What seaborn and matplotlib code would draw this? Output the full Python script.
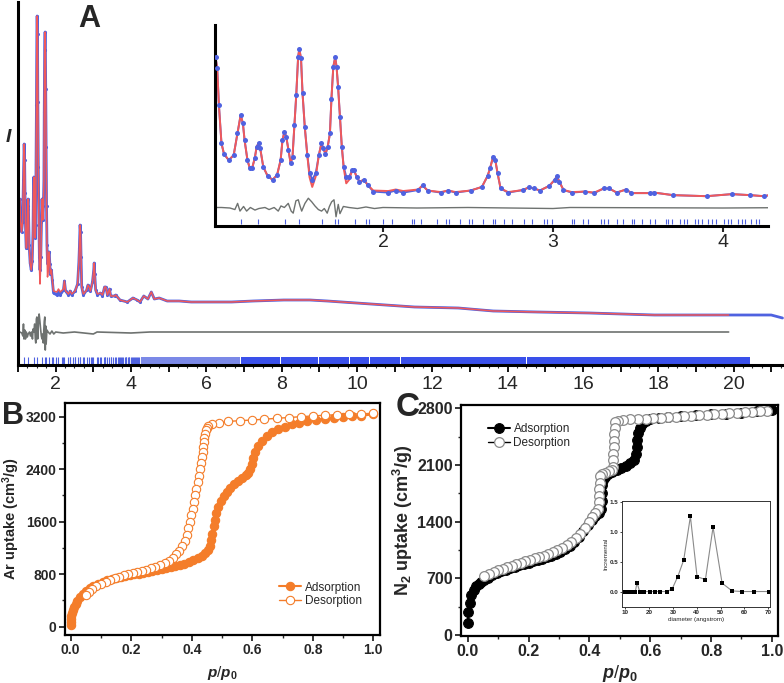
import numpy as np
import matplotlib
matplotlib.use("Agg")
import matplotlib.pyplot as plt
import seaborn as sns

# -------------------------------
# Panel A: powder pattern (arbitrary units)
# -------------------------------
two_theta = [1.015, 1.025, 1.035, 1.050, 1.065, 1.093, 1.122, 1.144, 1.163, 1.176,
             1.186, 1.203, 1.217, 1.230, 1.246, 1.257, 1.268, 1.278, 1.296, 1.322,
             1.351, 1.377, 1.398, 1.409, 1.420, 1.431, 1.444, 1.457, 1.468, 1.479,
             1.490, 1.501, 1.508, 1.518, 1.527, 1.540, 1.555, 1.568, 1.584, 1.605,
             1.623, 1.638, 1.649, 1.662, 1.675, 1.688, 1.697, 1.708, 1.719, 1.727,
             1.736, 1.747, 1.758, 1.769, 1.784, 1.801, 1.819, 1.830, 1.845, 1.862,
             1.888, 1.910, 1.943, 2.031, 2.075, 2.119, 2.207, 2.233, 2.263, 2.340,
             2.384, 2.427, 2.516, 2.582, 2.615, 2.630, 2.648, 2.661, 2.674, 2.692,
             2.736, 2.824, 2.857, 2.890, 2.923, 2.978, 3.011, 3.023, 3.038, 3.062,
             3.111, 3.188, 3.243, 3.298, 3.331, 3.375, 3.430, 3.462, 3.573, 3.595,
             3.707, 3.904, 4.052, 4.162, 4.240, 4.34, 4.45, 4.54, 4.62, 4.75,
             4.96, 5.28, 5.6, 6.0, 6.67, 7.25, 8.06, 8.75, 9.21, 10.37,
             11.53, 12.69, 13.62, 14.78, 16.17, 17.90, 19.87, 21.0, 21.3]
i_obs = [334, 312, 240, 166, 145, 133, 143, 185, 221, 205,
         172, 133, 117, 117, 137, 159, 166, 156, 120, 102,
         95, 104, 133, 172, 188, 179, 153, 127, 140, 201,
         260, 334, 349, 331, 263, 198, 143, 108, 95, 108,
         143, 166, 156, 145, 159, 185, 253, 315, 333, 315,
         276, 218, 159, 120, 101, 101, 113, 113, 101, 91,
         95, 85, 72, 70, 74, 70, 75, 84, 74, 70,
         74, 70, 74, 81, 102, 117, 140, 133, 108, 78,
         70, 75, 80, 78, 74, 83, 95, 102, 91, 75,
         70, 72, 69, 78, 78, 70, 76, 69, 69, 70,
         65, 63, 67, 65, 63, 69, 66, 73, 66, 67,
         64, 64, 63, 63, 63, 64, 65, 65, 64, 61,
         58, 57, 54, 53, 52, 50, 50, 50, 47]
i_calc = [334, 312, 240, 166, 145, 133, 143, 185, 221, 205,
          172, 133, 117, 117, 137, 159, 166, 156, 120, 102,
          95, 104, 133, 172, 188, 179, 153, 127, 140, 201,
          260, 334, 349, 331, 263, 198, 143, 100, 81, 102,
          143, 166, 156, 145, 159, 185, 253, 315, 333, 315,
          276, 218, 159, 118, 88, 95, 113, 113, 101, 91,
          95, 85, 74, 73, 76, 73, 76, 84, 74, 71,
          74, 71, 74, 81, 102, 117, 140, 133, 108, 78,
          71, 75, 80, 78, 74, 83, 95, 102, 91, 75,
          71, 72, 70, 78, 78, 70, 76, 69, 69, 70,
          65, 63, 67, 65, 63, 69, 66, 73, 66, 67,
          64, 64, 63, 63, 63, 64, 65, 65, 64, 61,
          58, 57, 54, 53, 52, 50, 50, np.nan, np.nan]
diff_x = [1.015, 1.05, 1.10, 1.129, 1.145, 1.159, 1.18, 1.198, 1.22, 1.247,
          1.27, 1.306, 1.33, 1.36, 1.384, 1.40, 1.42, 1.443, 1.46, 1.472,
          1.488, 1.502, 1.512, 1.522, 1.541, 1.561, 1.581, 1.60, 1.620, 1.639,
          1.655, 1.672, 1.685, 1.698, 1.712, 1.724, 1.737, 1.747, 1.767, 1.80,
          1.85, 1.90, 1.95, 2.0, 2.2, 2.5, 3.0, 3.1, 4.0, 4.5, 19.87]
diff_y = [0, 0, -1, -4, 8, -7, 2, -7, 0, -5,
          -2, 0, -4, 0, -7, 3, 0, 8, -7, -11,
          13, 15, 3, -7, 8, 18, 11, 3, -4, -7,
          -2, -11, 2, 11, 15, -18, 6, -12, 2, 0,
          -2, 1, -2, 0, -1, 0, -2, 0, -1, 0, 0]
refl_pos = [1.163, 1.267, 1.424, 1.508, 1.643, 1.718, 1.737, 1.835, 1.900, 1.920,
            2.002, 2.051, 2.169, 2.182, 2.222, 2.316, 2.371, 2.388, 2.453, 2.508,
            2.522, 2.590, 2.645, 2.659, 2.714, 2.761, 2.832, 2.875, 2.949, 2.963,
            2.996, 3.110, 3.126, 3.179, 3.208, 3.283, 3.302, 3.322, 3.375, 3.414,
            3.463, 3.479, 3.526, 3.571, 3.600, 3.663, 3.679, 3.698, 3.747, 3.773,
            3.786, 3.835, 3.855, 3.875, 3.914, 3.937, 3.957, 4.008, 4.031, 4.047,
            4.090, 4.110, 4.129, 4.165, 4.192, 4.212]
# above ~4.3 the reflection marks merge into one band
refl_band_start = 4.26
refl_band_dense = 6.9
refl_band_end = 20.44
refl_band_gaps = [7.96, 8.98, 9.80, 10.33, 11.15, 14.51]

# -------------------------------
# Panel B: Ar isotherm
# -------------------------------
ar_ads_p = [0.000, 0.000, 0.001, 0.002, 0.004, 0.007, 0.011, 0.016, 0.022, 0.030,
            0.039, 0.050, 0.062, 0.075, 0.090, 0.105, 0.120, 0.135, 0.150, 0.165,
            0.180, 0.195, 0.210, 0.225, 0.240, 0.255, 0.270, 0.285, 0.300, 0.315,
            0.330, 0.345, 0.360, 0.375, 0.390, 0.405, 0.420, 0.435, 0.445, 0.455,
            0.460, 0.465, 0.468, 0.472, 0.476, 0.481, 0.488, 0.496, 0.505, 0.515,
            0.527, 0.540, 0.553, 0.566, 0.578, 0.587, 0.593, 0.598, 0.603, 0.610,
            0.620, 0.633, 0.648, 0.665, 0.685, 0.707, 0.730, 0.755, 0.780, 0.810,
            0.840, 0.870, 0.900, 0.930, 0.960, 1.000]
ar_ads_v = [20, 70, 120, 170, 215, 260, 300, 345, 395, 445,
            495, 545, 590, 625, 655, 680, 705, 725, 740, 755,
            770, 785, 798, 810, 822, 835, 848, 860, 875, 890,
            905, 920, 940, 960, 985, 1010, 1040, 1080, 1120, 1170,
            1230, 1320, 1420, 1530, 1630, 1730, 1830, 1920, 1990, 2050,
            2110, 2170, 2220, 2270, 2310, 2345, 2400, 2480, 2570, 2660,
            2750, 2830, 2900, 2960, 3010, 3050, 3085, 3110, 3135, 3155,
            3170, 3185, 3195, 3205, 3215, 3236]
ar_des_p = [1.000, 0.960, 0.920, 0.880, 0.840, 0.800, 0.760, 0.720, 0.680, 0.640,
            0.600, 0.560, 0.520, 0.490, 0.468, 0.455, 0.449, 0.446, 0.444, 0.442,
            0.440, 0.438, 0.436, 0.433, 0.430, 0.427, 0.423, 0.419, 0.415, 0.411,
            0.407, 0.403, 0.399, 0.394, 0.389, 0.383, 0.376, 0.368, 0.359, 0.349,
            0.338, 0.325, 0.310, 0.295, 0.280, 0.265, 0.250, 0.235, 0.220, 0.205,
            0.190, 0.175, 0.160, 0.145, 0.130, 0.115, 0.100, 0.085, 0.070, 0.060,
            0.050]
ar_des_v = [3252, 3245, 3238, 3230, 3222, 3212, 3200, 3188, 3175, 3162,
            3150, 3140, 3128, 3110, 3090, 3060, 3030, 2990, 2940, 2880,
            2810, 2740, 2660, 2580, 2490, 2400, 2300, 2200, 2100, 2000,
            1900, 1800, 1700, 1600, 1500, 1400, 1310, 1230, 1160, 1100,
            1050, 1005, 965, 935, 912, 890, 870, 852, 835, 818,
            800, 782, 760, 738, 712, 685, 655, 620, 570, 530,
            485]

# -------------------------------
# Panel C: N2 isotherm and pore size distribution
# -------------------------------
n2_ads_p = [0.000, 0.001, 0.006, 0.012, 0.020, 0.028, 0.036, 0.045, 0.055, 0.068,
            0.080, 0.095, 0.110, 0.125, 0.140, 0.155, 0.170, 0.185, 0.200, 0.215,
            0.230, 0.245, 0.260, 0.275, 0.290, 0.305, 0.320, 0.335, 0.350, 0.365,
            0.380, 0.395, 0.408, 0.420, 0.432, 0.438, 0.440, 0.441, 0.442, 0.444,
            0.450, 0.462, 0.475, 0.490, 0.505, 0.520, 0.535, 0.548, 0.553, 0.555,
            0.557, 0.560, 0.565, 0.572, 0.585, 0.600, 0.630, 0.660, 0.700, 0.750,
            0.800, 0.850, 0.900, 0.950, 1.000]
n2_ads_v = [144, 288, 399, 494, 556, 600, 635, 660, 685, 710,
            735, 760, 785, 805, 825, 845, 865, 880, 895, 910,
            925, 942, 960, 980, 1002, 1030, 1060, 1100, 1150, 1210,
            1280, 1360, 1420, 1470, 1510, 1560, 1650, 1750, 1850, 1920,
            1955, 1990, 2010, 2035, 2060, 2090, 2125, 2165, 2230, 2320,
            2410, 2490, 2560, 2610, 2645, 2665, 2680, 2690, 2705, 2715,
            2725, 2735, 2746, 2760, 2779]
n2_des_p = [0.985, 0.960, 0.935, 0.910, 0.885, 0.860, 0.835, 0.810, 0.785, 0.760,
            0.735, 0.710, 0.685, 0.660, 0.635, 0.610, 0.585, 0.560, 0.535, 0.510,
            0.495, 0.485, 0.483, 0.482, 0.481, 0.480, 0.479, 0.478, 0.477, 0.474,
            0.465, 0.452, 0.440, 0.435, 0.434, 0.433, 0.432, 0.431, 0.428, 0.420,
            0.410, 0.400, 0.385, 0.370, 0.355, 0.340, 0.325, 0.310, 0.295, 0.280,
            0.265, 0.250, 0.235, 0.220, 0.205, 0.190, 0.175, 0.160, 0.145, 0.130,
            0.115, 0.100, 0.085, 0.070, 0.055]
n2_des_v = [2770, 2762, 2755, 2750, 2744, 2738, 2732, 2726, 2720, 2714,
            2708, 2702, 2696, 2690, 2684, 2678, 2672, 2668, 2662, 2655,
            2648, 2634, 2560, 2480, 2400, 2320, 2240, 2160, 2080, 2040,
            2020, 2000, 1985, 1960, 1880, 1800, 1720, 1640, 1560, 1510,
            1460, 1400, 1320, 1250, 1200, 1150, 1110, 1075, 1045, 1020,
            1000, 980, 962, 945, 928, 910, 893, 875, 858, 840,
            820, 800, 780, 755, 725]
psd_diam = [10.0, 10.7, 11.4, 12.1, 13.2, 14.2, 14.9, 16.0, 17.7, 20.2,
            22.3, 24.4, 27.5, 29.6, 32.0, 34.5, 37.3, 40.1, 43.6, 46.8,
            50.6, 54.8, 59.0, 63.9, 70.2]
psd_incr = [0.0, 0.0, 0.0, 0.0, 0.0, 0.0, 0.15, 0.0, 0.0, 0.0,
            0.0, 0.0, 0.0, 0.04, 0.25, 0.53, 1.26, 0.25, 0.20, 1.08,
            0.14, 0.01, 0.0, 0.0, 0.0]

# -------------------------------
# Style
# -------------------------------
sns.set_theme(style="ticks")
plt.rcParams['font.family'] = ['Liberation Sans', 'DejaVu Sans']
plt.rcParams['mathtext.fontset'] = 'custom'
plt.rcParams['mathtext.rm'] = 'Liberation Sans:bold'
plt.rcParams['mathtext.it'] = 'Liberation Sans:italic:bold'
plt.rcParams['mathtext.bf'] = 'Liberation Sans:bold'
plt.rcParams['mathtext.default'] = 'bf'

blue = '#4f62e0'
red = '#f0595a'
grey = '#6e7270'
orange = '#f47d2a'
W, H = 784, 683


def px_axes(left, top, right, bottom):
    return [left / W, 1 - bottom / H, (right - left) / W, (bottom - top) / H]


fig = plt.figure(figsize=(7.84, 6.83), dpi=100)

# -------------------------------
# A: main pattern
# -------------------------------
axA = fig.add_axes(px_axes(18, 2, 784, 365))
tt = np.array(two_theta)
obs = np.array(i_obs)
calc = np.array(i_calc)
keep = tt > 1.04
sns.lineplot(x=tt[keep], y=obs[keep], ax=axA, color=blue, linewidth=2.0,
             estimator=None, sort=False)
low = keep & (tt < 4.3)
sns.scatterplot(x=tt[low], y=obs[low], ax=axA, color=blue, s=5, linewidth=0)
sns.lineplot(x=tt[keep], y=calc[keep], ax=axA, color=red, linewidth=1.1,
             estimator=None, sort=False)
sns.lineplot(x=diff_x, y=np.array(diff_y) + 33, ax=axA, color=grey, linewidth=1.2,
             estimator=None, sort=False)
axA.vlines(refl_pos, 1.5, 8, color=blue, linewidth=0.8)
axA.axvspan(refl_band_start, refl_band_dense, ymin=0.004, ymax=0.022,
            color=blue, alpha=0.75, linewidth=0)
edges = [refl_band_dense] + refl_band_gaps + [refl_band_end]
for a, b in zip(edges[:-1], edges[1:]):
    axA.axvspan(a + 0.015, b - 0.015, ymin=0.004, ymax=0.022, color='#3a50ea', linewidth=0)
axA.set_xlim(1.019, 21.34)
axA.set_ylim(0, 363)
axA.set_xticks(range(1, 22))
axA.set_xticklabels([str(v) if v % 2 == 0 else '' for v in range(1, 22)])
axA.set_xticks(np.arange(1, 21.5, 0.25), minor=True)
axA.set_yticks([])
axA.tick_params(axis='x', which='major', direction='out', length=5, width=1.3,
                labelsize=14, pad=3, color='black')
axA.tick_params(axis='x', which='minor', direction='out', length=2, width=0.8)
for s in ['top', 'right']:
    axA.spines[s].set_visible(False)
for s in ['left', 'bottom']:
    axA.spines[s].set_linewidth(2.2)
    axA.spines[s].set_color('black')
axA.set_xlabel('')
axA.set_ylabel('')
axA.patch.set_alpha(0)

# A inset
axI = fig.add_axes(px_axes(215, 25, 768, 226))
sns.lineplot(x=tt, y=obs, ax=axI, color=blue, linewidth=1.4, estimator=None, sort=False)
sns.lineplot(x=tt, y=calc, ax=axI, color=red, linewidth=1.4, estimator=None, sort=False)
sns.scatterplot(x=tt, y=obs, ax=axI, color=blue, s=13, linewidth=0, zorder=3)
sns.lineplot(x=diff_x, y=np.array(diff_y) + 41, ax=axI, color=grey, linewidth=1.0,
             estimator=None, sort=False)
axI.vlines(refl_pos, 9, 19, color=blue, linewidth=0.8)
axI.set_xlim(1.012, 4.265)
axI.set_ylim(5, 396)
axI.set_xticks([2, 3, 4])
axI.set_yticks([])
axI.tick_params(axis='x', direction='out', length=4, width=1.5, labelsize=14, pad=2)
for s in ['top', 'right']:
    axI.spines[s].set_visible(False)
for s in ['left', 'bottom']:
    axI.spines[s].set_linewidth(2.2)
    axI.spines[s].set_color('black')
axI.set_xlabel('')
axI.set_ylabel('')
axI.patch.set_alpha(0)

fig.text(89 / W, 1 - 19 / H, 'A', fontsize=22, fontweight='bold', ha='center', va='center')
fig.text(8 / W, 1 - 138 / H, 'I', fontsize=14, fontweight='bold', fontstyle='italic',
         ha='center', va='center')

# -------------------------------
# B: Ar isotherm
# -------------------------------
axB = fig.add_axes(px_axes(65, 403, 380, 635))
sns.lineplot(x=ar_ads_p, y=ar_ads_v, ax=axB, color=orange, linewidth=1.5,
             marker='o', markersize=6, markerfacecolor=orange, markeredgecolor=orange,
             markeredgewidth=0.8, estimator=None, sort=False, label='Adsorption')
sns.lineplot(x=ar_des_p, y=ar_des_v, ax=axB, color=orange, linewidth=1.0,
             marker='o', markersize=6, markerfacecolor='white', markeredgecolor=orange,
             markeredgewidth=0.8, estimator=None, sort=False, label='Desorption')
axB.set_xlim(-0.019, 1.022)
axB.set_ylim(-127, 3409)
axB.set_xticks(np.arange(0, 1.01, 0.2))
axB.set_xticks(np.arange(0, 1.01, 0.1), minor=True)
axB.set_yticks(range(0, 3201, 800))
axB.set_yticks(range(0, 3201, 400), minor=True)
axB.set_xticklabels([f'{v:.1f}' for v in np.arange(0, 1.01, 0.2)])
axB.tick_params(which='major', direction='out', length=4, width=1.3, labelsize=10, pad=2)
axB.tick_params(which='minor', direction='out', length=2.5, width=1.0)
for lab in axB.get_xticklabels() + axB.get_yticklabels():
    lab.set_fontweight('bold')
for s in axB.spines.values():
    s.set_linewidth(1.6)
    s.set_color('black')
axB.set_ylabel('Ar uptake (cm$^3$/g)', fontsize=10.5, fontweight='bold')
axB.yaxis.set_label_coords(-0.136, 0.5)
axB.set_xlabel('$\\mathit{p}$/$\\mathit{p}_0$', fontsize=11, labelpad=5)
axB.legend(loc='center left', bbox_to_anchor=(0.66, 0.175), frameon=False, fontsize=8.5,
           handlelength=1.9, handletextpad=0.3, labelspacing=0.15, borderpad=0)
fig.text(13 / W, 1 - 416 / H, 'B', fontsize=22, fontweight='bold', ha='center', va='center')

# -------------------------------
# C: N2 isotherm
# -------------------------------
axC = fig.add_axes(px_axes(461, 405, 778, 636))
sns.lineplot(x=n2_ads_p, y=n2_ads_v, ax=axC, color='black', linewidth=1.5,
             marker='o', markersize=7, markerfacecolor='black', markeredgecolor='black',
             markeredgewidth=0.8, estimator=None, sort=False, label='Adsorption')
sns.lineplot(x=n2_des_p, y=n2_des_v, ax=axC, color='black', linewidth=1.0,
             marker='o', markersize=7, markerfacecolor='white', markeredgecolor='#8a8a8a',
             markeredgewidth=0.9, estimator=None, sort=False, label='Desorption')
axC.set_xlim(-0.022, 1.02)
axC.set_ylim(-12, 2840)
axC.set_xticks(np.arange(0, 1.01, 0.2))
axC.set_xticks(np.arange(0, 1.01, 0.1), minor=True)
axC.set_yticks(range(0, 2801, 700))
axC.set_yticks(range(0, 2801, 350), minor=True)
axC.set_xticklabels([f'{v:.1f}' for v in np.arange(0, 1.01, 0.2)])
axC.tick_params(which='major', direction='out', length=4, width=1.3, labelsize=11.5, pad=2)
axC.tick_params(which='minor', direction='out', length=2.5, width=1.0)
for lab in axC.get_xticklabels() + axC.get_yticklabels():
    lab.set_fontweight('bold')
for s in axC.spines.values():
    s.set_linewidth(1.6)
    s.set_color('black')
axC.set_ylabel('N$_2$ uptake (cm$^3$/g)', fontsize=13, fontweight='bold')
axC.yaxis.set_label_coords(-0.145, 0.5)
axC.set_xlabel('$\\mathit{p}$/$\\mathit{p}_0$', fontsize=13, labelpad=3)
axC.legend(loc='center left', bbox_to_anchor=(0.065, 0.865), frameon=False, fontsize=8.5,
           handlelength=1.9, handletextpad=0.3, labelspacing=0.15, borderpad=0)
fig.text(408 / W, 1 - 408 / H, 'C', fontsize=24, fontweight='bold', ha='center', va='center')

# C inset: pore size distribution
axP = fig.add_axes(px_axes(622, 501, 770, 607))
sns.lineplot(x=psd_diam, y=psd_incr, ax=axP, color='#8a8a8a', linewidth=0.8,
             marker='s', markersize=2.2, markerfacecolor='black', markeredgecolor='black',
             markeredgewidth=0, estimator=None, sort=False)
axP.set_xlim(8.6, 70.7)
axP.set_ylim(-0.26, 1.52)
axP.set_xticks(range(10, 71, 10))
axP.set_yticks([0.0, 0.5, 1.0, 1.5])
axP.set_yticklabels(['0.0', '0.5', '1.0', '1.5'])
axP.tick_params(direction='out', length=1.5, width=0.6, labelsize=4.5, pad=1)
for lab in axP.get_xticklabels() + axP.get_yticklabels():
    lab.set_fontweight('bold')
for s in axP.spines.values():
    s.set_linewidth(0.7)
    s.set_color('#333333')
axP.set_xlabel('diameter (angstrom)', fontsize=4.5, labelpad=1)
axP.set_ylabel('Incremental', fontsize=4.5, labelpad=1)

fig.savefig('out.png', dpi=100)
